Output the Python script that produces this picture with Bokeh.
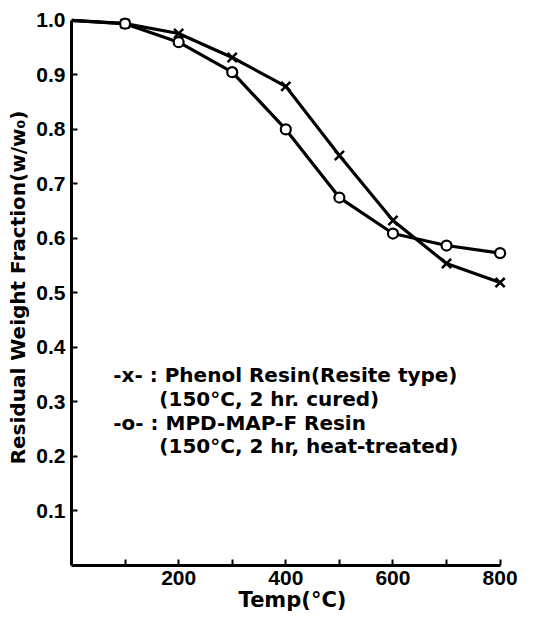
from bokeh.plotting import figure
from bokeh.models import FixedTicker, PrintfTickFormatter, Range1d, Label
from bokeh.embed import file_html
from bokeh.resources import INLINE

# Data
temps = [0, 100, 200, 300, 400, 500, 600, 700, 800]
phenol = [1.0, 0.994, 0.976, 0.932, 0.879, 0.752, 0.633, 0.554, 0.519]
mpd = [1.0, 0.994, 0.960, 0.905, 0.800, 0.675, 0.609, 0.587, 0.573]
marker_temps = temps[1:]
phenol_pts = phenol[1:]
mpd_pts = mpd[1:]

x_major = [200, 400, 600, 800]
x_minor = [100, 300, 500, 700]
y_ticks = [0.1, 0.2, 0.3, 0.4, 0.5, 0.6, 0.7, 0.8, 0.9, 1.0]

legend_lines = [
    "-x- : Phenol Resin(Resite type)",
    "(150°C, 2 hr. cured)",
    "-o- : MPD-MAP-F Resin",
    "(150°C, 2 hr, heat-treated)",
]

FONT = "Liberation Sans"
WIDE = "DejaVu Sans"

p = figure(width=537, height=618, output_backend="svg", toolbar_location=None,
           x_range=Range1d(0, 825), y_range=Range1d(0, 1.02))
p.min_border_left = 71
p.min_border_right = 24
p.min_border_top = 9
p.min_border_bottom = 53
p.outline_line_color = None
p.grid.visible = False
p.background_fill_color = "white"
p.border_fill_color = "white"

for ax in (p.xaxis[0], p.yaxis[0]):
    ax.axis_line_width = 3
    ax.axis_line_color = "black"
    ax.major_tick_in = 6
    ax.major_tick_out = 0
    ax.minor_tick_in = 6
    ax.minor_tick_out = 0
    ax.major_tick_line_width = 2
    ax.minor_tick_line_width = 2
    ax.major_label_text_font = FONT
    ax.major_label_text_font_style = "bold"
    ax.major_label_text_color = "black"
    ax.axis_label_text_font = WIDE
    ax.axis_label_text_font_style = "bold"
    ax.axis_label_text_color = "black"

p.xaxis.ticker = FixedTicker(ticks=x_major, minor_ticks=x_minor)
p.xaxis.bounds = (0, 800)
p.xaxis.major_label_text_font_size = "21px"
p.xaxis.major_label_standoff = 5
p.xaxis.axis_label = "Temp(°C)"
p.xaxis.axis_label_text_font_size = "21px"
p.xaxis.axis_label_standoff = 0

p.yaxis.ticker = FixedTicker(ticks=y_ticks, minor_ticks=[])
p.yaxis.bounds = (0, 1.0)
p.yaxis.formatter = PrintfTickFormatter(format="%.1f")
p.yaxis.major_label_text_font_size = "21px"
p.yaxis.major_label_standoff = 6
p.yaxis.axis_label = "Residual Weight Fraction(w/w₀)"
p.yaxis.axis_label_text_font_size = "20px"
p.yaxis.axis_label_standoff = 3

# curves
p.line(temps, phenol, line_color="black", line_width=3.2)
p.line(temps, mpd, line_color="black", line_width=3.2)
# markers
p.scatter(marker_temps, phenol_pts, marker="x", size=13, line_color="black", line_width=2.5)
p.scatter(marker_temps, mpd_pts, marker="circle", size=10, fill_color="white",
          line_color="black", line_width=2.2)

# legend text block
legend_x = [78, 164, 78, 164]
legend_y = [0.349, 0.306, 0.262, 0.220]
for lx, ly, txt in zip(legend_x, legend_y, legend_lines):
    p.add_layout(Label(x=lx, y=ly, text=txt, text_font=WIDE, text_font_style="bold",
                       text_font_size="20px", text_baseline="middle", text_color="black"))

open("out.html", "w").write(file_html(p, INLINE))
